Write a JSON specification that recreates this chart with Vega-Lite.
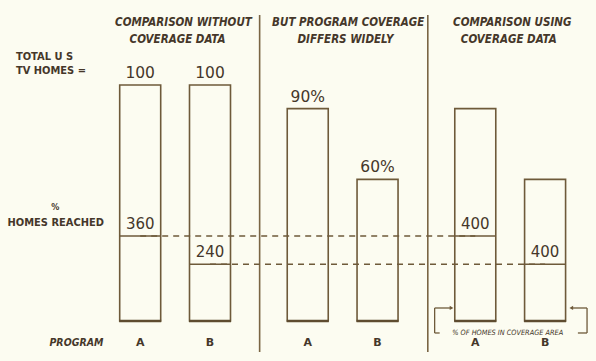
{
  "$schema": "https://vega.github.io/schema/vega-lite/v6.json",
  "width": 596,
  "height": 361,
  "padding": 0,
  "autosize": {"type": "fit", "contains": "padding"},
  "background": "#fcfcf1",
  "config": {
    "view": {"stroke": null},
    "text": {"color": "#45372a", "font": "DejaVu Sans"}
  },
  "datasets": {
    "programs": [
      {"section": "without", "program": "A", "pos": 0, "total": 100, "reached": 36, "top": "100", "inner": "360"},
      {"section": "without", "program": "B", "pos": 1, "total": 100, "reached": 24, "top": "100", "inner": "240"},
      {"section": "coverage", "program": "A", "pos": 2.4, "total": 90, "reached": null, "top": "90%", "inner": null},
      {"section": "coverage", "program": "B", "pos": 3.4, "total": 60, "reached": null, "top": "60%", "inner": null},
      {"section": "using", "program": "A", "pos": 4.8, "total": 90, "reached": 36, "top": null, "inner": "400"},
      {"section": "using", "program": "B", "pos": 5.8, "total": 60, "reached": 24, "top": null, "inner": "400"}
    ],
    "links": [
      {"from": 0, "to": 4.8, "level": 36},
      {"from": 1, "to": 5.8, "level": 24}
    ],
    "dividers": [
      {"x": 1.711, "top": 129.7, "bottom": -13.1},
      {"x": 4.12, "top": 129.7, "bottom": -13.1}
    ],
    "titles": [
      {"x": 0.62, "y": 126.3, "text": "COMPARISON WITHOUT"},
      {"x": 0.535, "y": 119.1, "text": "COVERAGE DATA"},
      {"x": 2.98, "y": 126.3, "text": "BUT PROGRAM COVERAGE"},
      {"x": 2.94, "y": 119.1, "text": "DIFFERS WIDELY"},
      {"x": 5.33, "y": 126.3, "text": "COMPARISON USING"},
      {"x": 5.28, "y": 119.1, "text": "COVERAGE DATA"}
    ],
    "sideLabels": [
      {"x": -1.78, "y": 111.9, "text": "TOTAL U S"},
      {"x": -1.78, "y": 105.9, "text": "TV HOMES ="},
      {"x": -1.9, "y": 41.5, "text": "HOMES REACHED"}
    ],
    "bracket": [
      {"x": 4.218, "x2": 4.46, "y": 5.51, "y2": 5.51},
      {"x": 4.218, "x2": 4.218, "y": 5.51, "y2": -5.08},
      {"x": 4.218, "x2": 4.29, "y": -5.08, "y2": -5.08},
      {"x": 6.27, "x2": 6.401, "y": -5.08, "y2": -5.08},
      {"x": 6.401, "x2": 6.401, "y": -5.08, "y2": 5.51},
      {"x": 6.401, "x2": 6.175, "y": 5.51, "y2": 5.51}
    ],
    "arrows": [
      {"x": 4.46, "y": 5.51, "dir": "right"},
      {"x": 6.175, "y": 5.51, "dir": "left"}
    ]
  },
  "encoding": {
    "x": {"type": "quantitative", "scale": {"domain": [-1.9366, 6.4577], "nice": false, "zero": false}, "axis": null},
    "y": {"type": "quantitative", "scale": {"domain": [-16.95, 136.02], "nice": false, "zero": false}, "axis": null}
  },
  "layer": [
    {
      "data": {"name": "dividers"},
      "mark": {"type": "rule", "stroke": "#7a6544", "strokeWidth": 1.6},
      "encoding": {"x": {"field": "x"}, "y": {"field": "top"}, "y2": {"field": "bottom"}}
    },
    {
      "data": {"name": "links"},
      "mark": {"type": "rule", "stroke": "#6e5a3a", "strokeWidth": 1.5, "strokeDash": [6, 5]},
      "encoding": {"x": {"field": "from"}, "x2": {"field": "to"}, "y": {"field": "level"}}
    },
    {
      "data": {"name": "programs"},
      "mark": {"type": "bar", "orient": "vertical", "size": 41, "fillOpacity": 0, "stroke": "#6e5a3a", "strokeWidth": 1.6},
      "encoding": {"x": {"field": "pos"}, "y": {"field": "total"}, "y2": {"datum": 0}}
    },
    {
      "data": {"name": "programs"},
      "mark": {"type": "tick", "orient": "horizontal", "size": 42, "thickness": 2.6, "color": "#5e4c30", "opacity": 1},
      "encoding": {"x": {"field": "pos"}, "y": {"datum": 0}}
    },
    {
      "data": {"name": "programs"},
      "transform": [{"filter": "datum.reached != null"}],
      "mark": {"type": "tick", "orient": "horizontal", "size": 41, "thickness": 1.5, "color": "#6e5a3a", "opacity": 1},
      "encoding": {"x": {"field": "pos"}, "y": {"field": "reached"}}
    },
    {
      "data": {"name": "programs"},
      "transform": [{"filter": "datum.top != null"}],
      "mark": {"type": "text", "fontSize": 15.5, "baseline": "alphabetic", "align": "center", "dy": -7},
      "encoding": {"x": {"field": "pos"}, "y": {"field": "total"}, "text": {"field": "top"}}
    },
    {
      "data": {"name": "programs"},
      "transform": [{"filter": "datum.inner != null"}],
      "mark": {"type": "text", "fontSize": 15, "baseline": "alphabetic", "align": "center", "dy": -7},
      "encoding": {"x": {"field": "pos"}, "y": {"field": "reached"}, "text": {"field": "inner"}}
    },
    {
      "data": {"name": "programs"},
      "mark": {"type": "text", "fontSize": 11, "fontWeight": "bold", "baseline": "middle", "align": "center"},
      "encoding": {"x": {"field": "pos"}, "y": {"datum": -9.3}, "text": {"field": "program"}}
    },
    {
      "data": {"name": "titles"},
      "mark": {"type": "text", "font": "DejaVu Sans Condensed", "fontSize": 11.5, "fontWeight": "bold", "fontStyle": "italic", "baseline": "middle", "align": "center"},
      "encoding": {"x": {"field": "x"}, "y": {"field": "y"}, "text": {"field": "text"}}
    },
    {
      "data": {"name": "sideLabels"},
      "mark": {"type": "text", "font": "DejaVu Sans Condensed", "fontSize": 11, "fontWeight": "bold", "baseline": "middle", "align": "left"},
      "encoding": {"x": {"field": "x"}, "y": {"field": "y"}, "text": {"field": "text"}}
    },
    {
      "data": {"values": [{"x": -1.275, "y": 48.3, "text": "%"}]},
      "mark": {"type": "text", "font": "DejaVu Sans Condensed", "fontSize": 9, "fontWeight": "bold", "baseline": "middle", "align": "left"},
      "encoding": {"x": {"field": "x"}, "y": {"field": "y"}, "text": {"field": "text"}}
    },
    {
      "data": {"values": [{"x": -1.3, "y": -9.3, "text": "PROGRAM"}]},
      "mark": {"type": "text", "font": "DejaVu Sans Condensed", "fontSize": 10.5, "fontWeight": "bold", "fontStyle": "italic", "baseline": "middle", "align": "left"},
      "encoding": {"x": {"field": "x"}, "y": {"field": "y"}, "text": {"field": "text"}}
    },
    {
      "data": {"name": "bracket"},
      "mark": {"type": "rule", "stroke": "#6e5a3a", "strokeWidth": 1.3},
      "encoding": {"x": {"field": "x"}, "x2": {"field": "x2"}, "y": {"field": "y"}, "y2": {"field": "y2"}}
    },
    {
      "data": {"name": "arrows"},
      "mark": {"type": "point", "filled": true, "size": 18, "color": "#6e5a3a", "opacity": 1},
      "encoding": {
        "x": {"field": "x"},
        "y": {"field": "y"},
        "shape": {"field": "dir", "type": "nominal", "scale": {"domain": ["right", "left"], "range": ["triangle-right", "triangle-left"]}, "legend": null}
      }
    },
    {
      "data": {"values": [{"x": 5.265, "y": -5.1, "text": "% OF HOMES   IN COVERAGE AREA"}]},
      "mark": {"type": "text", "font": "DejaVu Sans Condensed", "fontSize": 7.3, "fontStyle": "italic", "baseline": "middle", "align": "center"},
      "encoding": {"x": {"field": "x"}, "y": {"field": "y"}, "text": {"field": "text"}}
    }
  ]
}
